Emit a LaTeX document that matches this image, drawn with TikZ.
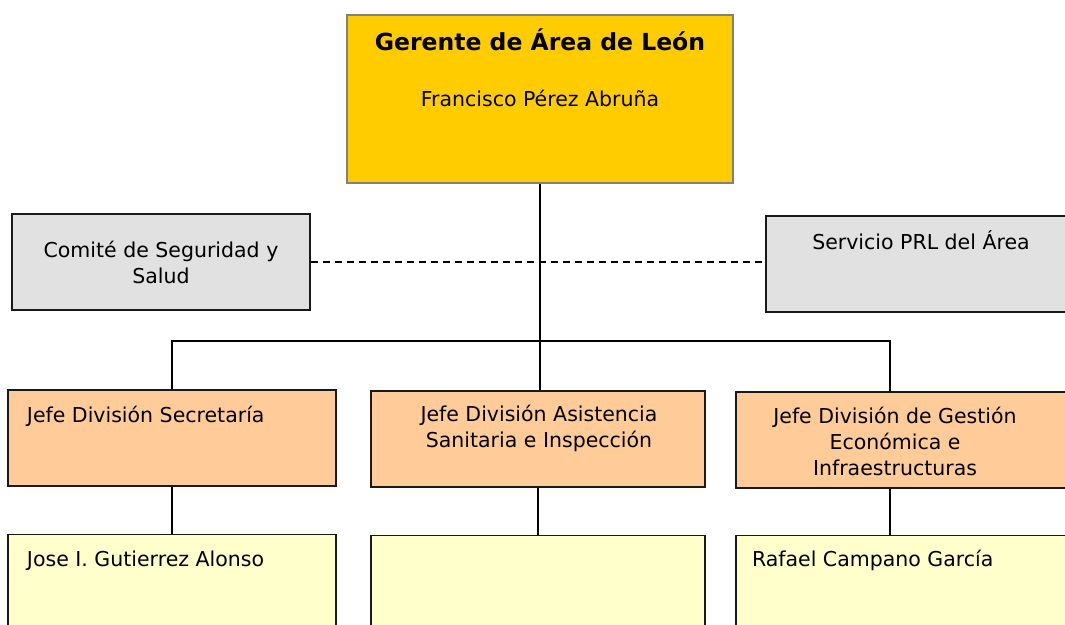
\documentclass[tikz,border=0pt]{standalone}
\usepackage{fontspec}
\setmainfont{DejaVu Sans}
\usepackage{tikz}
\usetikzlibrary{positioning}
\definecolor{oro}{HTML}{FFCC00}
\definecolor{gris}{HTML}{E1E1E1}
\definecolor{naranja}{HTML}{FFCC99}
\definecolor{amarillo}{HTML}{FFFFCC}
\newcommand{\tamano}{\fontsize{20.5}{26}\selectfont}

\begin{document}
\begin{tikzpicture}[x=1pt,
                    y=-1pt,
                    line width=1.6pt,
                    caja/.style={rectangle,draw=black!90,line width=1.6pt,inner sep=0pt},
                    gerente/.style={caja,draw=black!50,fill=oro,minimum width=386pt,minimum height=168pt},
                    comite/.style={caja,fill=gris,minimum height=96pt},
                    jefe/.style={caja,fill=naranja,minimum height=96pt},
                    nombre/.style={caja,fill=amarillo,minimum height=130pt},
                    txt/.style={font=\tamano,inner sep=0pt,anchor=north,align=center,
                                execute at begin node={\rule{0pt}{24pt}}}
                    ]
  \useasboundingbox (0,0) rectangle (1065,624);
  \clip (0,0) rectangle (1065,624);
  \node[gerente] (ger) at (540,99) {};
  \node[comite, minimum width=298pt] (com) at (161,262) {};
  \node[comite, minimum width=310pt] (prl) at (921,264) {};
  \node[jefe, minimum width=328pt] (jsec) at (172,438) {};
  \node[jefe, minimum width=334pt] (jasi) at (538,439) {};
  \node[jefe, minimum width=334pt] (jges) at (903,440) {};
  \node[nombre, minimum width=328pt, below=47pt of jsec] (nsec) {};
  \node[nombre, minimum width=334pt, below=47pt of jasi] (nasi) {};
  \node[nombre, minimum width=334pt, below=46pt of jges] (nges) {};
  %textos
  \node[txt, font=\fontsize{23.5}{26}\selectfont\bfseries, below=11pt of ger.north] (tger) {Gerente de Área de León};
  \node[txt, below=67pt of ger.north] (tfra) {Francisco Pérez Abruña};
  \node[txt, below=27pt of com.north] (tcom) {Comité de Seguridad y\\Salud};
  \node[txt, below=9pt of prl.north] (tprl) {Servicio PRL del Área};
  \node[txt, anchor=north west, below right=8pt and 19pt of jsec.north west] (tsec) {Jefe División Secretaría};
  \node[txt, below=14pt of jasi.north, xshift=1pt] (tasi) {Jefe División Asistencia\\Sanitaria e Inspección};
  \node[txt, below=15pt of jges.north, xshift=-8pt] (tges) {Jefe División de Gestión\\Económica e\\Infraestructuras};
  \node[txt, anchor=north west, below right=8pt and 19pt of nsec.north west] (tjose) {Jose I. Gutierrez Alonso};
  \node[txt, anchor=north west, below right=7pt and 16pt of nges.north west] (traf) {Rafael Campano García};
  \coordinate (bus) at (540,341);
  \draw (ger.south) -- (ger.south |- jasi.north);
  \draw (jsec.north) |- (bus) -| ([xshift=-13pt]jges.north);
  \draw[dash pattern=on 7pt off 5pt] (com.east) -- (com.east -| prl.west);
  \draw (jsec) -- (nsec);
  \draw (jasi) -- (nasi);
  \draw ([xshift=-13pt]jges.south) -- ([xshift=-13pt]nges.north);
\end{tikzpicture}
\end{document}
